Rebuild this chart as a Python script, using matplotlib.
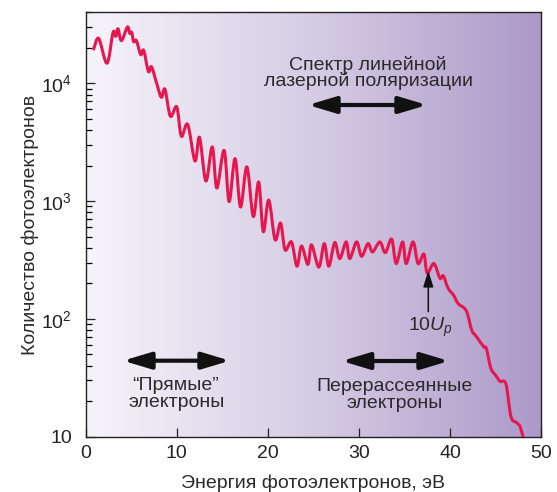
import numpy as np
import matplotlib
matplotlib.use("Agg")
import matplotlib.pyplot as plt
from matplotlib.path import Path
from matplotlib.patches import PathPatch
from matplotlib.ticker import FixedLocator, FuncFormatter, LogLocator, NullFormatter

plt.rcParams['font.family'] = ['Liberation Sans', 'DejaVu Sans']
plt.rcParams['mathtext.fontset'] = 'custom'
plt.rcParams['mathtext.rm'] = 'Liberation Sans'
plt.rcParams['mathtext.it'] = 'Liberation Sans:italic'

# ---- data ----
energy = [0.88, 1.43, 2.34, 3.0, 3.3, 3.55, 3.92, 4.58, 4.84, 5.05, 5.27, 5.57,
          6.04, 6.37, 6.88, 7.22, 7.76, 8.3, 8.7, 9.3, 10.0, 10.5, 11.2, 12.0,
          12.5, 13.2, 13.9, 14.4, 15.2, 15.75, 16.4, 17.0, 17.7, 18.4, 19.0,
          19.5, 20.1, 20.8, 21.4, 21.9, 22.6, 23.2, 23.7, 24.4, 24.8, 25.6,
          26.2, 26.7, 27.35, 27.9, 28.6, 29.0, 29.75, 30.3, 31.0, 31.5, 32.3,
          32.9, 33.6, 34.1, 34.8, 35.2, 35.95, 36.5, 37.14, 37.5, 38.24, 38.9,
          39.27, 39.8, 40.4, 40.9, 41.8, 42.4, 42.9, 43.7, 44.0, 44.5, 45.05,
          45.5, 46.15, 46.7, 47.3, 47.7, 48.05]
counts = [19500, 24000, 14800, 27000, 25000, 29000, 23000, 30000, 26500, 27000,
          22500, 23000, 17500, 19000, 12600, 13800, 10200, 7600, 8900, 5250,
          6300, 3550, 4470, 2190, 3470, 1480, 2880, 1290, 2690, 990, 2290, 890,
          1950, 740, 1450, 550, 1020, 470, 650, 385, 450, 280, 415, 290, 425,
          275, 435, 280, 445, 325, 450, 325, 450, 340, 435, 370, 450, 365, 475,
          295, 450, 295, 450, 295, 355, 245, 295, 221, 232, 182, 159, 135, 117,
          80, 71, 58, 56, 38, 33, 29.5, 28, 14.8, 13.2, 12.2, 9.8]

x_ticks = [0, 10, 20, 30, 40, 50]
y_major = [10, 100, 1000, 10000]
y_labels = {10: "10", 100: r"$10^2$", 1000: r"$10^3$", 10000: r"$10^4$"}

W, H = 557, 492
fig = plt.figure(figsize=(W / 100, H / 100), dpi=100)
L, R, B, T = 85.7, 541, 436.7, 12.3
ax = fig.add_axes([L / W, 1 - B / H, (R - L) / W, (B - T) / H])

# background gradient
grad = np.linspace(0, 1, 256)
c0 = np.array([0.965, 0.957, 0.98])
c1 = np.array([0.835, 0.80, 0.895])
c2 = np.array([0.675, 0.60, 0.785])
cols = np.where(grad[:, None] < 0.5,
                c0 + (c1 - c0) * (grad[:, None] / 0.5),
                c1 + (c2 - c1) * ((grad[:, None] - 0.5) / 0.5))
ax.imshow(cols[None, :, :], extent=[0, 1, 0, 1], transform=ax.transAxes,
          aspect='auto', zorder=0, interpolation='bilinear')

ax.set_yscale('log')
ax.set_xlim(0, 50)
ax.set_ylim(10, 40000)

# smooth curve (Catmull-Rom in (E, log10 N) space)
P = np.column_stack([energy, np.log10(counts)])
verts = [P[0]]
codes = [Path.MOVETO]
n = len(P)
for i in range(n - 1):
    p0 = P[i - 1] if i > 0 else P[i]
    p1 = P[i]
    p2 = P[i + 1]
    p3 = P[i + 2] if i + 2 < n else P[i + 1]
    c1p = p1 + (p2 - p0) / 6.0
    c2p = p2 - (p3 - p1) / 6.0
    verts += [c1p, c2p, p2]
    codes += [Path.CURVE4] * 3
verts = np.array(verts)
verts[:, 1] = 10 ** verts[:, 1]
patch = PathPatch(Path(verts, codes), fill=False, edgecolor='#e6174f',
                  lw=2.2, capstyle='round', joinstyle='round', zorder=3)
ax.add_patch(patch)

# ticks
ax.xaxis.set_major_locator(FixedLocator(x_ticks))
ax.yaxis.set_major_locator(FixedLocator(y_major))
ax.yaxis.set_minor_locator(LogLocator(base=10, subs=np.arange(2, 10), numticks=20))
ax.yaxis.set_major_formatter(FuncFormatter(lambda v, p: y_labels.get(int(round(v)), "")))
ax.yaxis.set_minor_formatter(NullFormatter())
ax.tick_params(axis='both', which='major', direction='in', length=6.5, width=0.9,
               labelsize=14, colors='#222222')
ax.tick_params(axis='y', which='minor', direction='in', length=4.3, width=0.9)
ax.tick_params(axis='x', which='major', pad=6, top=False)
ax.tick_params(axis='y', which='both', pad=10, right=False)
for s in ax.spines.values():
    s.set_linewidth(1.0)
    s.set_color('#222222')

ax.set_xlabel("Энергия фотоэлектронов, эВ", fontsize=14, color='#2a2a2a', labelpad=9)
ax.set_ylabel("Количество фотоэлектронов", fontsize=14, color='#2a2a2a', labelpad=1)

tc = '#2a2a2a'

def px(xp, yp):
    # convert pixel coords to data coords
    e = (xp - L) / (R - L) * 50
    lv = 1 + (B - yp) / ((B - T) / np.log10(4000))
    return e, 10 ** lv

def put(xp, yp, s, **kw):
    e, v = px(xp, yp)
    ax.text(e, v, s, ha='center', va='baseline', fontsize=14, color=tc, **kw)

put(368, 70, "Спектр линейной")
put(368, 86.5, "лазерной поляризации")
put(176, 390, "“Прямые”")
put(177, 407, "электроны")
put(395, 390.7, "Перерассеянные")
put(395, 408, "электроны")

def darrow(x1, x2, yp):
    a = px(x1, yp)
    b = px(x2, yp)
    ax.annotate("", xy=a, xytext=b,
                arrowprops=dict(arrowstyle='<|-|>,head_length=1.2,head_width=0.36',
                                lw=3, color='#111111', shrinkA=0, shrinkB=0,
                                mutation_scale=14), zorder=4)

darrow(123, 230, 360.7)
darrow(308, 427, 105)
darrow(341.7, 449, 361)

# 10 U_p marker
ax.annotate("", xy=px(428.3, 270.7), xytext=px(428.3, 311.7),
            arrowprops=dict(arrowstyle='-|>,head_length=0.7,head_width=0.22',
                            lw=1.1, color='#111111', shrinkA=0, shrinkB=0,
                            mutation_scale=14), zorder=4)
put(430, 331, r"10$\mathit{U}_{p}$")

fig.savefig("out.png", dpi=100)
